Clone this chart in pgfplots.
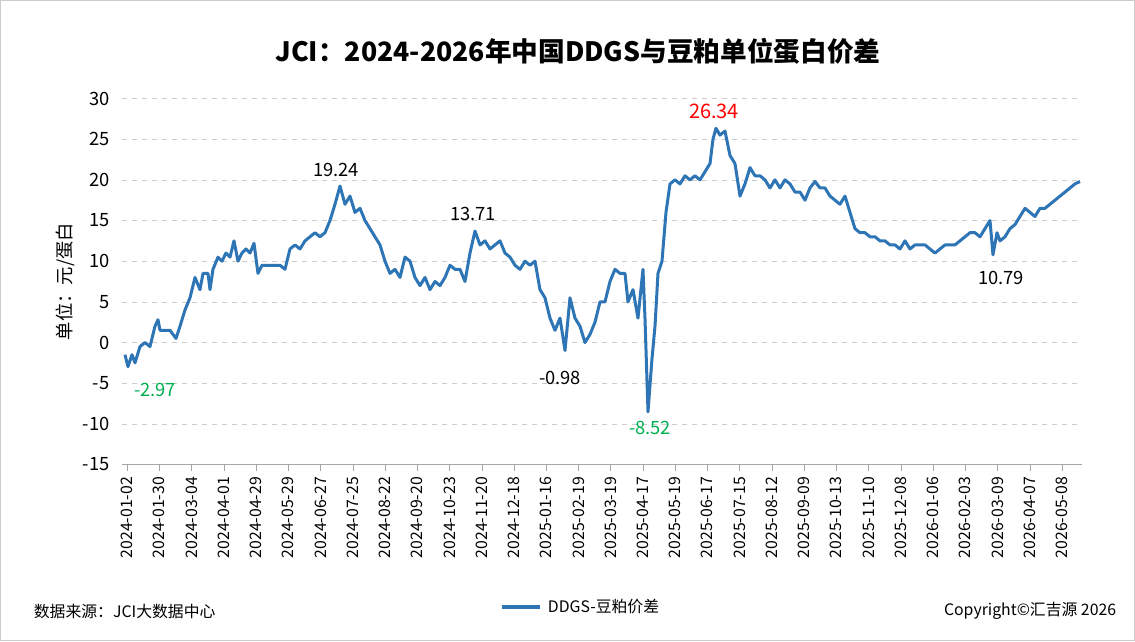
\documentclass[border=0pt]{standalone}
\usepackage{pgfplots}
\pgfplotsset{compat=1.18}
\usepackage{fontspec}
\setmainfont{Noto Sans CJK SC}
\definecolor{ln}{HTML}{2E75B6}
\begin{document}
\begin{tikzpicture}[x=0.6pt,y=0.6pt]
\fill[white] (0,0) rectangle (1135,641);
\draw[gray!40] (0.5,0.5) rectangle (1134.5,640.5);
\node[font=\bfseries\fontsize{16}{19}\selectfont] at (578,590) {JCI：2024-2026年中国DDGS与豆粕单位蛋白价差};
\node[font=\fontsize{9.5}{11}\selectfont, anchor=west] at (28,30) {数据来源：JCI大数据中心};
\node[font=\fontsize{9.5}{11}\selectfont, anchor=east] at (1122,30) {Copyright©汇吉源 2026};
\draw[ln, line width=2pt] (502,34) -- (540,34);
\node[font=\fontsize{9.5}{11}\selectfont, anchor=west] at (542,34) {DDGS-豆粕价差};
\begin{axis}[at={(122,217)}, anchor=south west, scale only axis,
  width=576pt, height=219.6pt,
  xmin=122, xmax=1082, ymin=-15, ymax=30,
  ytick={-15,-10,...,30},
  xtick={127,159.2,191.5,223.7,256,288.2,320.4,352.7,384.9,417.2,449.4,481.7,513.9,546.1,578.4,610.6,642.9,675.1,707.3,739.6,771.8,804.1,836.3,868.6,900.8,933,965.3,997.5,1029.8,1062},
  xticklabels={2024-01-02,2024-01-30,2024-03-04,2024-04-01,2024-04-29,2024-05-29,2024-06-27,2024-07-25,2024-08-22,2024-09-20,2024-10-23,2024-11-20,2024-12-18,2025-01-16,2025-02-19,2025-03-19,2025-04-17,2025-05-19,2025-06-17,2025-07-15,2025-08-12,2025-09-09,2025-10-13,2025-11-10,2025-12-08,2026-01-06,2026-02-03,2026-03-09,2026-04-07,2026-05-08},
  x tick label style={rotate=90, anchor=east, font=\fontsize{9.5}{11}\selectfont},
  y tick label style={font=\fontsize{11}{13}\selectfont},
  /pgf/number format/assume math mode=true,
  ymajorgrids, grid style={dashed, gray!40},
  separate axis lines,
  y axis line style={draw=none}, x axis line style={gray!70},
  axis x line*=bottom,
  x tick style={gray!70}, ytick style={draw=none},
  tick align=outside, major tick length=4pt,
  ylabel={单位：元/蛋白}, ylabel style={font=\fontsize{11}{13}\selectfont, yshift=-2pt},
  clip=false]
\addplot[ln, line width=1.8pt, line join=round] coordinates {
(125,-1.5)(128,-2.97)(132,-1.5)(135,-2.5)(140,-0.5)(145,0)(150,-0.5)(155,2)(158,2.8)(160,1.5)(165,1.5)(170,1.5)(176,0.5)(180,2)(185,4)(190,5.5)(195,8)(200,6.5)(203,8.5)(208,8.5)(210,6.5)(213,9)(218,10.5)(222,10)(226,11)(230,10.5)(234,12.5)(238,10)(242,11)(246,11.5)(250,11)(254,12.2)(258,8.5)(262,9.5)(270,9.5)(280,9.5)(285,9)(290,11.5)(295,12)(300,11.5)(305,12.5)(310,13)(315,13.5)(320,13)(325,13.5)(330,15)(335,17)(340,19.24)(345,17)(350,18)(355,16)(360,16.5)(365,15)(370,14)(375,13)(380,12)(385,10)(390,8.5)(395,9)(400,8)(405,10.5)(410,10)(415,8)(420,7)(425,8)(430,6.5)(435,7.5)(440,7)(445,8)(450,9.5)(455,9)(460,9)(465,7.5)(470,11)(475,13.71)(480,12)(485,12.5)(490,11.5)(495,12)(500,12.5)(505,11)(510,10.5)(515,9.5)(520,9)(525,10)(530,9.5)(535,10)(540,6.5)(545,5.5)(550,3)(555,1.5)(560,3)(565,-0.98)(570,5.5)(575,3)(580,2)(585,0)(590,1)(595,2.5)(600,5)(605,5)(610,7.5)(615,9)(620,8.5)(625,8.5)(628,5)(633,6.5)(638,3)(643,9)(645,3)(648,-8.52)(652,-2)(655,2)(658,8.5)(662,10)(666,16)(670,19.5)(675,20)(680,19.5)(685,20.5)(690,20)(695,20.5)(700,20)(705,21)(710,22)(713,25)(716,26.34)(720,25.5)(725,26)(730,23)(735,22)(740,18)(745,19.5)(750,21.5)(755,20.5)(760,20.5)(765,20)(770,19)(775,20)(780,19)(785,20)(790,19.5)(795,18.5)(800,18.5)(805,17.5)(810,19)(815,19.8)(820,19)(825,19)(830,18)(835,17.5)(840,17)(845,18)(850,16)(855,14)(860,13.5)(865,13.5)(870,13)(875,13)(880,12.5)(885,12.5)(890,12)(895,12)(900,11.5)(905,12.5)(910,11.5)(915,12)(920,12)(925,12)(930,11.5)(935,11)(940,11.5)(945,12)(950,12)(955,12)(960,12.5)(965,13)(970,13.5)(975,13.5)(980,13)(985,14)(990,15)(993,10.79)(997,13.5)(1000,12.5)(1005,13)(1010,14)(1015,14.5)(1020,15.5)(1025,16.5)(1030,16)(1035,15.5)(1040,16.5)(1045,16.5)(1050,17)(1055,17.5)(1060,18)(1065,18.5)(1070,19)(1075,19.5)(1080,19.8)};
\node[font=\fontsize{11}{13}\selectfont, text={rgb,255:red,0;green,176;blue,80}, below] at (axis cs:155,-4.3) {-2.97};
\node[font=\fontsize{11}{13}\selectfont, above] at (axis cs:336,19.6) {19.24};
\node[font=\fontsize{11}{13}\selectfont, above] at (axis cs:473,14.2) {13.71};
\node[font=\fontsize{11}{13}\selectfont, below] at (axis cs:560,-2.8) {-0.98};
\node[font=\fontsize{11}{13}\selectfont, text={rgb,255:red,0;green,176;blue,80}, below] at (axis cs:650,-8.9) {-8.52};
\node[font=\fontsize{12}{14}\selectfont, text=red, above] at (axis cs:714,26.8) {26.34};
\node[font=\fontsize{11}{13}\selectfont, below] at (axis cs:1001,9.5) {10.79};
\end{axis}
\end{tikzpicture}
\end{document}
